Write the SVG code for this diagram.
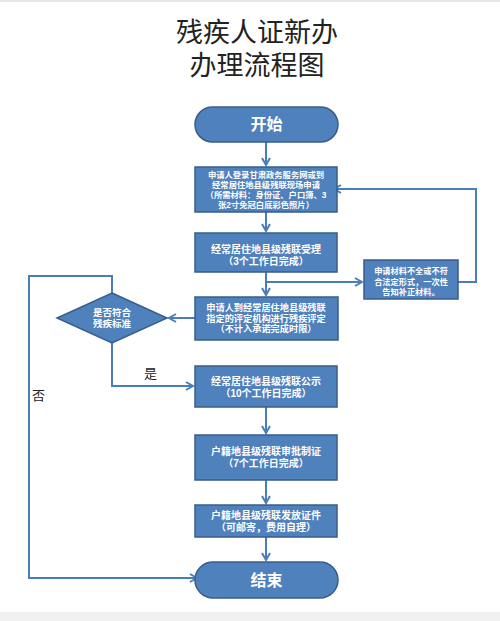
<svg xmlns="http://www.w3.org/2000/svg" width="500" height="621" viewBox="0 0 500 621">
<defs>
<marker id="arr" markerWidth="10" markerHeight="10" refX="8" refY="5" orient="auto" markerUnits="userSpaceOnUse">
<path d="M1,1 L8,5 L1,9" fill="none" stroke="#4a7ebb" stroke-width="2"/>
</marker>
<style>
.box{fill:#4f81bd;stroke:#385d8a;stroke-width:1.5}
.ln{fill:none;stroke:#4a7ebb;stroke-width:2}
.t{font-family:"Liberation Sans","Noto Sans CJK SC",sans-serif;fill:#fff;font-weight:bold;text-anchor:middle}
.lbl{font-family:"Liberation Sans","Noto Sans CJK SC",sans-serif;fill:#222;font-size:13px}
.title{font-family:"Liberation Sans","Noto Sans CJK SC",sans-serif;fill:#222;font-size:27px;text-anchor:middle}
</style>
</defs>
<rect x="0" y="0" width="500" height="2" fill="#e6e6e6"/>
<rect x="0" y="612" width="500" height="9" fill="#f0f0f0"/>
<text class="title" x="257" y="42">残疾人证新办</text>
<text class="title" x="257" y="75">办理流程图</text>

<g id="connectors">
<path class="ln" d="M266,142 V165" marker-end="url(#arr)"/>
<path class="ln" d="M266,212 V231" marker-end="url(#arr)"/>
<path class="ln" d="M266,272 V295" marker-end="url(#arr)"/>
<path class="ln" d="M266,282 H362" marker-end="url(#arr)"/>
<path class="ln" d="M458,282 H476 V189 H334" marker-end="url(#arr)"/>
<path class="ln" d="M195,318 H169" marker-end="url(#arr)"/>
<path class="ln" d="M112,343 V386 H193" marker-end="url(#arr)"/>
<path class="ln" d="M112,293 V276 H29 V578 H197" marker-end="url(#arr)"/>
<path class="ln" d="M266,407 V433" marker-end="url(#arr)"/>
<path class="ln" d="M266,480 V503" marker-end="url(#arr)"/>
<path class="ln" d="M266,537 V560" marker-end="url(#arr)"/>
<text class="lbl" x="144" y="378">是</text>
<text class="lbl" x="32" y="400">否</text>
</g>

<g id="start">
<rect class="box" x="195" y="107" width="143" height="35" rx="17.5"/>
<text class="t" x="266.5" y="130" font-size="16" font-weight="normal">开始</text>
</g>
<g id="apply">
<rect class="box" x="195" y="167" width="142" height="45"/>
<text class="t" font-size="8.3"><tspan x="266" y="178">申请人登录甘肃政务服务网或到</tspan><tspan x="266" y="188">经常居住地县级残联现场申请</tspan><tspan x="266" y="198">（所需材料：身份证、户口簿、3</tspan><tspan x="266" y="208">张2寸免冠白底彩色照片）</tspan></text>
</g>
<g id="accept">
<rect class="box" x="195" y="233" width="142" height="39"/>
<text class="t" font-size="10"><tspan x="266" y="253">经常居住地县级残联受理</tspan><tspan x="266" y="265">（3个工作日完成）</tspan></text>
</g>
<g id="assess">
<rect class="box" x="195" y="297" width="143" height="43"/>
<text class="t" font-size="9.2"><tspan x="266" y="311">申请人到经常居住地县级残联</tspan><tspan x="266" y="321.5">指定的评定机构进行残疾评定</tspan><tspan x="266" y="332">（不计入承诺完成时限）</tspan></text>
</g>
<g id="incomplete">
<rect class="box" x="364" y="260" width="94" height="39"/>
<text class="t" font-size="8.2"><tspan x="411" y="274">申请材料不全或不符</tspan><tspan x="411" y="284.5">合法定形式，一次性</tspan><tspan x="411" y="295">告知补正材料。</tspan></text>
</g>
<g id="decision">
<polygon class="box" points="112,293 167,318 112,343 57,318"/>
<text class="t" font-size="9.5"><tspan x="112" y="316">是否符合</tspan><tspan x="112" y="327">残疾标准</tspan></text>
</g>
<g id="publicize">
<rect class="box" x="195" y="366" width="142" height="41"/>
<text class="t" font-size="10"><tspan x="266" y="385">经常居住地县级残联公示</tspan><tspan x="266" y="397">（10个工作日完成）</tspan></text>
</g>
<g id="approve">
<rect class="box" x="195" y="435" width="142" height="45"/>
<text class="t" font-size="10"><tspan x="266" y="455">户籍地县级残联审批制证</tspan><tspan x="266" y="467">（7个工作日完成）</tspan></text>
</g>
<g id="issue">
<rect class="box" x="195" y="505" width="142" height="32"/>
<text class="t" font-size="10"><tspan x="266" y="519">户籍地县级残联发放证件</tspan><tspan x="266" y="531">（可邮寄，费用自理）</tspan></text>
</g>
<g id="end">
<rect class="box" x="195" y="562" width="143" height="36" rx="18"/>
<text class="t" x="266.5" y="586" font-size="16" font-weight="normal">结束</text>
</g>
</svg>
